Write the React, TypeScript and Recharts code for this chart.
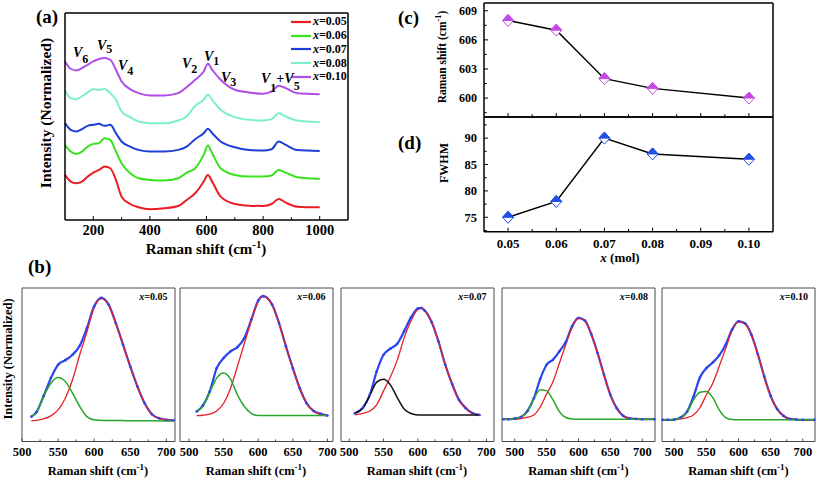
import React from 'react';
import { LineChart, Line, XAxis, YAxis, Legend } from 'recharts';

const SERIF = '"Liberation Serif", "Times New Roman", serif';

// (a) Raman spectra, stacked with an offset
const ramanShift = [100, 120, 140, 160, 180, 200, 220, 240, 260, 280, 300, 330, 360, 400, 450, 500, 530, 560, 590, 605, 620, 650, 700, 750, 800, 830, 855, 880, 920, 1000];
const spectrum005 = [1.35, 1.15, 1.1, 1.15, 1.3, 1.42, 1.5, 1.6, 1.55, 1.2, 0.7, 0.48, 0.38, 0.32, 0.35, 0.42, 0.6, 0.8, 1.15, 1.35, 1.15, 0.7, 0.48, 0.43, 0.42, 0.48, 0.63, 0.52, 0.4, 0.38];
const spectrum006 = [2.25, 2.05, 1.98, 2.05, 2.2, 2.28, 2.3, 2.45, 2.4, 2.05, 1.7, 1.4, 1.25, 1.2, 1.18, 1.25, 1.42, 1.55, 1.95, 2.23, 2.0, 1.55, 1.35, 1.3, 1.3, 1.33, 1.5, 1.42, 1.28, 1.23];
const spectrum007 = [2.9, 2.7, 2.65, 2.72, 2.82, 2.85, 2.88, 2.82, 2.85, 2.6, 2.35, 2.2, 2.1, 2.05, 2.05, 2.1, 2.2, 2.42, 2.6, 2.73, 2.6, 2.35, 2.18, 2.1, 2.08, 2.12, 2.35, 2.25, 2.1, 2.07];
const spectrum008 = [3.88, 3.65, 3.62, 3.7, 3.82, 3.92, 3.9, 3.92, 3.8, 3.6, 3.25, 3.08, 2.95, 2.9, 2.9, 2.98, 3.1, 3.42, 3.6, 3.75, 3.6, 3.3, 3.08, 3.0, 2.98, 3.02, 3.2, 3.1, 2.98, 2.93];
const spectrum010 = [4.75, 4.53, 4.48, 4.55, 4.65, 4.75, 4.82, 4.85, 4.8, 4.5, 4.15, 3.92, 3.8, 3.73, 3.73, 3.8, 3.98, 4.2, 4.45, 4.68, 4.5, 4.2, 3.9, 3.82, 3.78, 3.85, 4.02, 3.95, 3.8, 3.77];
const spectraNames = ['0.05', '0.06', '0.07', '0.08', '0.10'];
const spectraColors = ['#ec1c24', '#3ae21e', '#1f3ed6', '#7ef0c8', '#ad4ee6'];
const spectraTicks = [200, 300, 400, 500, 600, 700, 800, 900, 1000];
const spectraLabelTicks = [200, 400, 600, 800, 1000];

// (c) and (d)
const moleFraction = [0.05, 0.06, 0.07, 0.08, 0.1];
const peakPosition = [608, 607, 602, 601, 600];
const peakWidth = [75, 78, 90, 87, 86];
const moleTicks = [0.05, 0.055, 0.06, 0.065, 0.07, 0.075, 0.08, 0.085, 0.09, 0.095, 0.1];
const moleLabelTicks = [0.05, 0.06, 0.07, 0.08, 0.09, 0.1];
const peakTicks = [598.5, 600, 601.5, 603, 604.5, 606, 607.5, 609];
const peakLabelTicks = [600, 603, 606, 609];
const widthTicks = [72.5, 75, 77.5, 80, 82.5, 85, 87.5, 90, 92.5];
const widthLabelTicks = [75, 80, 85, 90];

// (b) peak fits around 600 cm-1
const fitTicks = [500, 525, 550, 575, 600, 625, 650, 675, 700];
const fitLabelTicks = [500, 550, 600, 650, 700];

const fitShift005 = [513, 520, 530, 540, 550, 560, 570, 580, 590, 600, 610, 620, 630, 640, 650, 660, 670, 680, 690, 700, 710];
const fitData005 = [16.2, 19.1, 29.7, 41.3, 50.0, 53.0, 56.5, 62.4, 74.0, 88.1, 93.6, 89.2, 77.2, 63.1, 48.9, 35.8, 24.9, 17.8, 15.1, 14.1, 13.8];
const fitMain005 = [13.6, 13.8, 14.7, 16.7, 20.6, 28.2, 40.2, 56.5, 71.5, 87.5, 93.1, 89.0, 77.0, 63.0, 48.8, 35.7, 24.8, 17.7, 15.0, 14.0, 13.7];
const fitShoulder005 = [16.2, 19.0, 29.5, 38.0, 41.7, 39.1, 31.5, 22.8, 16.2, 14.1, 13.8, 13.6, 13.6, 13.6, 13.5, 13.5, 13.5, 13.5, 13.4, 13.4, 13.4];

const fitShift006 = [511, 520, 530, 540, 550, 560, 570, 580, 590, 600, 607, 620, 630, 640, 650, 660, 670, 680, 690, 700];
const fitData006 = [19.5, 23.4, 32.6, 47.8, 54.4, 58.7, 61.5, 67.4, 79.4, 91.8, 94.7, 89.2, 77.2, 62.0, 47.8, 34.7, 24.9, 19.9, 18.0, 16.9];
const fitMain006 = [16.9, 17.1, 17.8, 19.9, 24.9, 34.7, 49.0, 64.0, 78.5, 91.5, 94.5, 89.0, 77.0, 61.8, 47.6, 34.5, 24.7, 19.7, 17.8, 16.8];
const fitShoulder006 = [19.5, 23.0, 32.0, 41.3, 44.6, 40.6, 30.4, 22.8, 18.4, 16.9, 16.9, 16.9, 16.9, 16.9, 16.9, 16.9, 16.9, 16.9, 16.9, 16.9];

const fitShift007 = [508, 520, 530, 540, 550, 560, 570, 580, 590, 600, 605, 610, 620, 630, 640, 650, 660, 670, 680, 690];
const fitData007 = [18.4, 22.1, 30.4, 45.6, 56.5, 60.5, 63.7, 71.8, 80.9, 86.6, 87.0, 85.3, 77.9, 65.3, 50.0, 37.4, 27.1, 21.7, 18.4, 17.3];
const fitMain007 = [17.3, 18.4, 19.9, 23.9, 33.0, 42.0, 53.0, 67.5, 78.5, 86.0, 86.8, 85.1, 77.7, 65.1, 49.8, 37.2, 26.9, 21.5, 18.2, 17.2];
const fitShoulder007 = [18.4, 21.8, 30.0, 38.7, 40.6, 36.9, 28.6, 21.2, 18.2, 17.3, 17.3, 17.3, 17.3, 17.3, 17.3, 17.3, 17.3, 17.3, 17.3, 17.3];

const fitShift008 = [482, 490, 500, 510, 520, 530, 540, 550, 560, 570, 580, 590, 600, 610, 620, 630, 640, 650, 660, 670, 680, 690, 700, 719];
const fitData008 = [14.5, 14.5, 14.9, 16.0, 19.9, 28.2, 40.8, 50.0, 53.3, 58.7, 64.8, 75.1, 80.5, 78.8, 70.0, 57.6, 43.5, 30.4, 21.7, 16.7, 15.1, 14.7, 14.5, 14.5];
const fitMain008 = [14.5, 14.5, 14.5, 14.9, 15.8, 17.3, 22.5, 31.0, 39.0, 51.0, 63.0, 74.5, 80.3, 78.6, 69.8, 57.4, 43.3, 30.2, 21.5, 16.6, 15.0, 14.6, 14.5, 14.5];
const fitShoulder008 = [14.5, 14.5, 14.7, 16.0, 19.5, 28.0, 33.7, 33.0, 27.1, 19.5, 15.6, 14.7, 14.5, 14.5, 14.5, 14.5, 14.5, 14.5, 14.5, 14.5, 14.5, 14.5, 14.5, 14.5];

const fitShift010 = [482, 490, 500, 510, 520, 530, 540, 550, 560, 570, 580, 590, 600, 610, 620, 630, 640, 650, 660, 670, 680, 690, 700, 718];
const fitData010 = [14.1, 14.1, 14.3, 15.6, 19.5, 29.3, 41.7, 47.8, 51.5, 56.1, 63.1, 72.9, 78.3, 77.0, 69.6, 57.0, 42.4, 29.7, 21.2, 16.7, 14.7, 14.3, 14.1, 14.1];
const fitMain010 = [14.1, 14.1, 14.3, 14.7, 15.6, 17.3, 22.0, 30.5, 38.0, 49.0, 60.5, 72.5, 78.1, 76.8, 69.4, 56.8, 42.2, 29.5, 21.0, 16.6, 14.6, 14.2, 14.1, 14.1];
const fitShoulder010 = [14.1, 14.1, 14.3, 15.4, 19.0, 27.1, 32.1, 32.6, 28.6, 20.6, 15.6, 14.3, 14.1, 14.1, 14.1, 14.1, 14.1, 14.1, 14.1, 14.1, 14.1, 14.1, 14.1, 14.1];

const near = (list: number[], v: number) => list.some((m) => Math.abs(m - v) < 1e-6);

type TickOpts = { labels: number[]; format: (v: number) => string; fontSize: number; len: number; gap: number; color?: string };

// inward tick marks, labels only on the major values
const bottomTick = (o: TickOpts) => (props: any) => {
  const { x, y, payload } = props;
  const major = near(o.labels, payload.value);
  return (
    <g>
      <line x1={x} y1={y} x2={x} y2={y - (major ? o.len : o.len * 0.7)} stroke={o.color || '#000'} strokeWidth={1} />
      {major && (
        <text x={x} y={y + o.gap} textAnchor="middle" fontFamily={SERIF} fontWeight="bold" fontSize={o.fontSize} fill="#000">
          {o.format(payload.value)}
        </text>
      )}
    </g>
  );
};

const leftTick = (o: TickOpts) => (props: any) => {
  const { x, y, payload } = props;
  const major = near(o.labels, payload.value);
  return (
    <g>
      <line x1={x} y1={y} x2={x + (major ? o.len : o.len * 0.7)} y2={y} stroke="#000" strokeWidth={1} />
      {major && (
        <text x={x - o.gap} y={y + o.fontSize * 0.35} textAnchor="end" fontFamily={SERIF} fontWeight="bold" fontSize={o.fontSize} fill="#000">
          {o.format(payload.value)}
        </text>
      )}
    </g>
  );
};

const HalfDiamond = ({ cx, cy, color }: { cx: number; cy: number; color: string }) => {
  const w = 5.5;
  const h = 6;
  return (
    <g>
      <polygon points={`${cx - w},${cy} ${cx},${cy - h} ${cx + w},${cy} ${cx},${cy + h}`} fill="#fff" stroke={color} strokeWidth={1} />
      <polygon points={`${cx - w},${cy} ${cx},${cy - h} ${cx + w},${cy}`} fill={color} stroke={color} strokeWidth={1} />
    </g>
  );
};

const SpectraLegend = ({ payload }: any) => (
  <div style={{ fontFamily: SERIF, fontWeight: 'bold', fontSize: 12 }}>
    {(payload || []).map((entry: any) => (
      <div key={entry.value} style={{ display: 'flex', alignItems: 'center', height: 13.75 }}>
        <svg width={22} height={4} style={{ display: 'block' }}>
          <line x1={0} y1={2} x2={20} y2={2} stroke={entry.color} strokeWidth={2.2} />
        </svg>
        <span>
          <i>x</i>={entry.value}
        </span>
      </div>
    ))}
  </div>
);

const blackFrame = { stroke: '#000', strokeWidth: 1.5 };
const grayFrame = { stroke: '#4a4a4a', strokeWidth: 1 };

// axes need a non-zero box to be drawn, so each one is 1px and the margins are 1px smaller
const SpectraChart = () => {
  const spectra = [spectrum005, spectrum006, spectrum007, spectrum008, spectrum010];
  const rows = ramanShift.map((s, i) => {
    const row: Record<string, number> = { shift: s };
    spectraNames.forEach((n, k) => (row[n] = spectra[k][i]));
    return row;
  });
  return (
    <div style={{ position: 'absolute', left: 0, top: 0 }}>
      <LineChart width={365} height={260} data={rows} margin={{ top: 12, right: 16, bottom: 39, left: 64 }}>
        <XAxis
          dataKey="shift"
          type="number"
          domain={[100, 1100]}
          ticks={spectraTicks}
          interval={0}
          height={1}
          tickSize={0}
          tickMargin={0}
          tickLine={false}
          axisLine={blackFrame}
          tick={bottomTick({ labels: spectraLabelTicks, format: (v) => String(v), fontSize: 14.5, len: 4, gap: 15 })}
        />
        <XAxis xAxisId="top" orientation="top" dataKey="shift" type="number" domain={[100, 1100]} height={1} tick={false} tickLine={false} axisLine={blackFrame} />
        <YAxis type="number" domain={[0, 6.2]} width={1} tick={false} tickLine={false} axisLine={blackFrame} />
        <YAxis yAxisId="right" orientation="right" type="number" domain={[0, 6.2]} width={1} tick={false} tickLine={false} axisLine={blackFrame} />
        {spectraNames.map((n, k) => (
          <Line key={n} name={n} dataKey={n} type="monotone" stroke={spectraColors[k]} strokeWidth={2} dot={false} isAnimationActive={false} />
        ))}
        <Legend layout="vertical" align="center" verticalAlign="middle" content={<SpectraLegend />} wrapperStyle={{ top: 15, left: 291, width: 70 }} />
      </LineChart>
    </div>
  );
};

const ShiftChart = () => {
  const rows = moleFraction.map((m, i) => ({ mol: m, peak: peakPosition[i] }));
  return (
    <div style={{ position: 'absolute', left: 420, top: 0 }}>
      <LineChart width={370} height={125} data={rows} margin={{ top: 2, right: 16, bottom: 7, left: 63 }}>
        <XAxis
          dataKey="mol"
          type="number"
          domain={[0.045, 0.105]}
          ticks={moleTicks}
          interval={0}
          height={1}
          tickSize={0}
          tickMargin={0}
          tickLine={false}
          axisLine={blackFrame}
          tick={bottomTick({ labels: moleLabelTicks, format: () => '', fontSize: 13, len: 4, gap: 16 })}
        />
        <XAxis xAxisId="top" orientation="top" dataKey="mol" type="number" domain={[0.045, 0.105]} height={1} tick={false} tickLine={false} axisLine={blackFrame} />
        <YAxis
          type="number"
          domain={[598.05, 609.8]}
          ticks={peakTicks}
          interval={0}
          width={1}
          tickSize={0}
          tickMargin={0}
          tickLine={false}
          axisLine={blackFrame}
          tick={leftTick({ labels: peakLabelTicks, format: (v) => String(v), fontSize: 12, len: 4, gap: 7 })}
        />
        <YAxis yAxisId="right" orientation="right" type="number" domain={[598.05, 609.8]} width={1} tick={false} tickLine={false} axisLine={blackFrame} />
        <Line
          dataKey="peak"
          stroke="#000"
          strokeWidth={1.5}
          isAnimationActive={false}
          dot={(p: any) => <HalfDiamond key={p.index} cx={p.cx} cy={p.cy} color="#c44ae6" />}
        />
      </LineChart>
    </div>
  );
};

const WidthChart = () => {
  const rows = moleFraction.map((m, i) => ({ mol: m, fwhm: peakWidth[i] }));
  return (
    <div style={{ position: 'absolute', left: 420, top: 110 }}>
      <LineChart width={370} height={170} data={rows} margin={{ top: 6, right: 16, bottom: 47.3, left: 63 }}>
        <XAxis
          dataKey="mol"
          type="number"
          domain={[0.045, 0.105]}
          ticks={moleTicks}
          interval={0}
          height={1}
          tickSize={0}
          tickMargin={0}
          tickLine={false}
          axisLine={blackFrame}
          tick={bottomTick({ labels: moleLabelTicks, format: (v) => v.toFixed(2), fontSize: 13, len: 4, gap: 16 })}
        />
        <XAxis xAxisId="top" orientation="top" dataKey="mol" type="number" domain={[0.045, 0.105]} height={1} tick={false} tickLine={false} axisLine={blackFrame} />
        <YAxis
          type="number"
          domain={[72.27, 94]}
          ticks={widthTicks}
          interval={0}
          width={1}
          tickSize={0}
          tickMargin={0}
          tickLine={false}
          axisLine={blackFrame}
          tick={leftTick({ labels: widthLabelTicks, format: (v) => String(v), fontSize: 12.5, len: 4, gap: 7 })}
        />
        <YAxis yAxisId="right" orientation="right" type="number" domain={[72.27, 94]} width={1} tick={false} tickLine={false} axisLine={blackFrame} />
        <Line
          dataKey="fwhm"
          stroke="#000"
          strokeWidth={1.5}
          isAnimationActive={false}
          dot={(p: any) => <HalfDiamond key={p.index} cx={p.cx} cy={p.cy} color="#1f4fe6" />}
        />
      </LineChart>
    </div>
  );
};

type FitProps = {
  left: number;
  shift: number[];
  measured: number[];
  main: number[];
  shoulder: number[];
  shoulderColor: string;
  domain: [number, number];
};

const FitPanel = ({ left, shift, measured, main, shoulder, shoulderColor, domain }: FitProps) => {
  const rows = shift.map((s, i) => ({ shift: s, measured: measured[i], main: main[i], shoulder: shoulder[i] }));
  return (
    <div style={{ position: 'absolute', left: left - 15, top: 282.5 }}>
      <LineChart width={183} height={200} data={rows} margin={{ top: 4, right: 14, bottom: 40.5, left: 14 }}>
        <XAxis
          dataKey="shift"
          type="number"
          domain={domain}
          ticks={fitTicks}
          interval={0}
          height={1}
          tickSize={0}
          tickMargin={0}
          tickLine={false}
          axisLine={grayFrame}
          tick={bottomTick({ labels: fitLabelTicks, format: (v) => String(v), fontSize: 12.5, len: 3, gap: 14, color: '#4a4a4a' })}
        />
        <XAxis xAxisId="top" orientation="top" dataKey="shift" type="number" domain={domain} height={1} tick={false} tickLine={false} axisLine={grayFrame} />
        <YAxis type="number" domain={[0, 100]} width={1} tick={false} tickLine={false} axisLine={grayFrame} />
        <YAxis yAxisId="right" orientation="right" type="number" domain={[0, 100]} width={1} tick={false} tickLine={false} axisLine={grayFrame} />
        <Line dataKey="measured" type="monotone" stroke="#2b44ee" strokeWidth={2.2} dot={{ r: 1.3, fill: '#2b44ee', stroke: 'none' }} isAnimationActive={false} />
        <Line dataKey="main" type="monotone" stroke="#e4202a" strokeWidth={1.3} dot={false} isAnimationActive={false} />
        <Line dataKey="shoulder" type="monotone" stroke={shoulderColor} strokeWidth={1.5} dot={false} isAnimationActive={false} />
      </LineChart>
    </div>
  );
};

const RamanTitle = ({ x, y, size, rotate = false }: { x: number; y: number; size: number; rotate?: boolean }) => (
  <text transform={`translate(${x},${y})${rotate ? ' rotate(-90)' : ''}`} textAnchor="middle" fontSize={size}>
    Raman shift (cm
    <tspan dy={-size * 0.4} fontSize={size * 0.72}>
      -1
    </tspan>
    <tspan dy={size * 0.4}>)</tspan>
  </text>
);

const Mode = ({ x, y, sub, drop }: { x: number; y: number; sub: string; drop: number }) => (
  <text x={x} y={y} fontSize={14}>
    <tspan fontStyle="italic">V</tspan>
    <tspan dy={drop} fontSize={12}>
      {sub}
    </tspan>
  </text>
);

const fitPanels = [
  { left: 21.5, label: '0.05' },
  { left: 179.5, label: '0.06' },
  { left: 340.5, label: '0.07' },
  { left: 502, label: '0.08' },
  { left: 662, label: '0.10' },
];

const Annotations = () => (
  <svg width={817} height={480} style={{ position: 'absolute', left: 0, top: 0, pointerEvents: 'none' }} fontFamily={SERIF} fontWeight="bold" fill="#000">
    <text x={36} y={23} fontSize={19}>(a)</text>
    <text x={28} y={273} fontSize={19}>(b)</text>
    <text x={398} y={24} fontSize={19}>(c)</text>
    <text x={398} y={149} fontSize={19}>(d)</text>

    <text transform="translate(51,113) rotate(-90)" textAnchor="middle" fontSize={15.5}>
      Intensity (Normalized)
    </text>
    <RamanTitle x={206} y={254} size={15} />

    <Mode x={73} y={57} sub="6" drop={6} />
    <Mode x={97} y={50} sub="5" drop={3} />
    <Mode x={118} y={70} sub="4" drop={5} />
    <Mode x={182} y={68} sub="2" drop={5} />
    <Mode x={204} y={61} sub="1" drop={4} />
    <Mode x={221} y={82} sub="3" drop={4} />
    <text x={261} y={83} fontSize={14}>
      <tspan fontStyle="italic">V</tspan>
      <tspan dy={9} fontSize={12}>1</tspan>
      <tspan dy={-9}>+</tspan>
      <tspan fontStyle="italic">V</tspan>
      <tspan dy={7} fontSize={12}>5</tspan>
    </text>

    <RamanTitle x={446} y={57} size={11.5} rotate />
    <text transform="translate(447.5,163) rotate(-90)" textAnchor="middle" fontSize={12}>
      FWHM
    </text>
    <text x={620} y={262} textAnchor="middle" fontSize={13}>
      <tspan fontStyle="italic">x</tspan> (mol)
    </text>

    <text transform="translate(12,359) rotate(-90)" textAnchor="middle" fontSize={12.5}>
      Intensity (Normalized)
    </text>
    {fitPanels.map((p) => (
      <g key={p.label}>
        <RamanTitle x={p.left + 76.5} y={475} size={12.5} />
        <text x={p.left + 146} y={300} textAnchor="end" fontSize={10}>
          <tspan fontStyle="italic">x</tspan>={p.label}
        </text>
      </g>
    ))}
  </svg>
);

export default function App() {
  return (
    <div style={{ position: 'absolute', left: 0, top: 0, width: 817, height: 480, overflow: 'hidden', background: '#fff' }}>
      <SpectraChart />
      <ShiftChart />
      <WidthChart />
      <FitPanel left={21.5} shift={fitShift005} measured={fitData005} main={fitMain005} shoulder={fitShoulder005} shoulderColor="#2aa52a" domain={[500, 712]} />
      <FitPanel left={179.5} shift={fitShift006} measured={fitData006} main={fitMain006} shoulder={fitShoulder006} shoulderColor="#2aa52a" domain={[487, 708]} />
      <FitPanel left={340.5} shift={fitShift007} measured={fitData007} main={fitMain007} shoulder={fitShoulder007} shoulderColor="#111111" domain={[488, 711]} />
      <FitPanel left={502} shift={fitShift008} measured={fitData008} main={fitMain008} shoulder={fitShoulder008} shoulderColor="#2aa52a" domain={[480, 720]} />
      <FitPanel left={662} shift={fitShift010} measured={fitData010} main={fitMain010} shoulder={fitShoulder010} shoulderColor="#2aa52a" domain={[481, 719]} />
      <Annotations />
    </div>
  );
}
